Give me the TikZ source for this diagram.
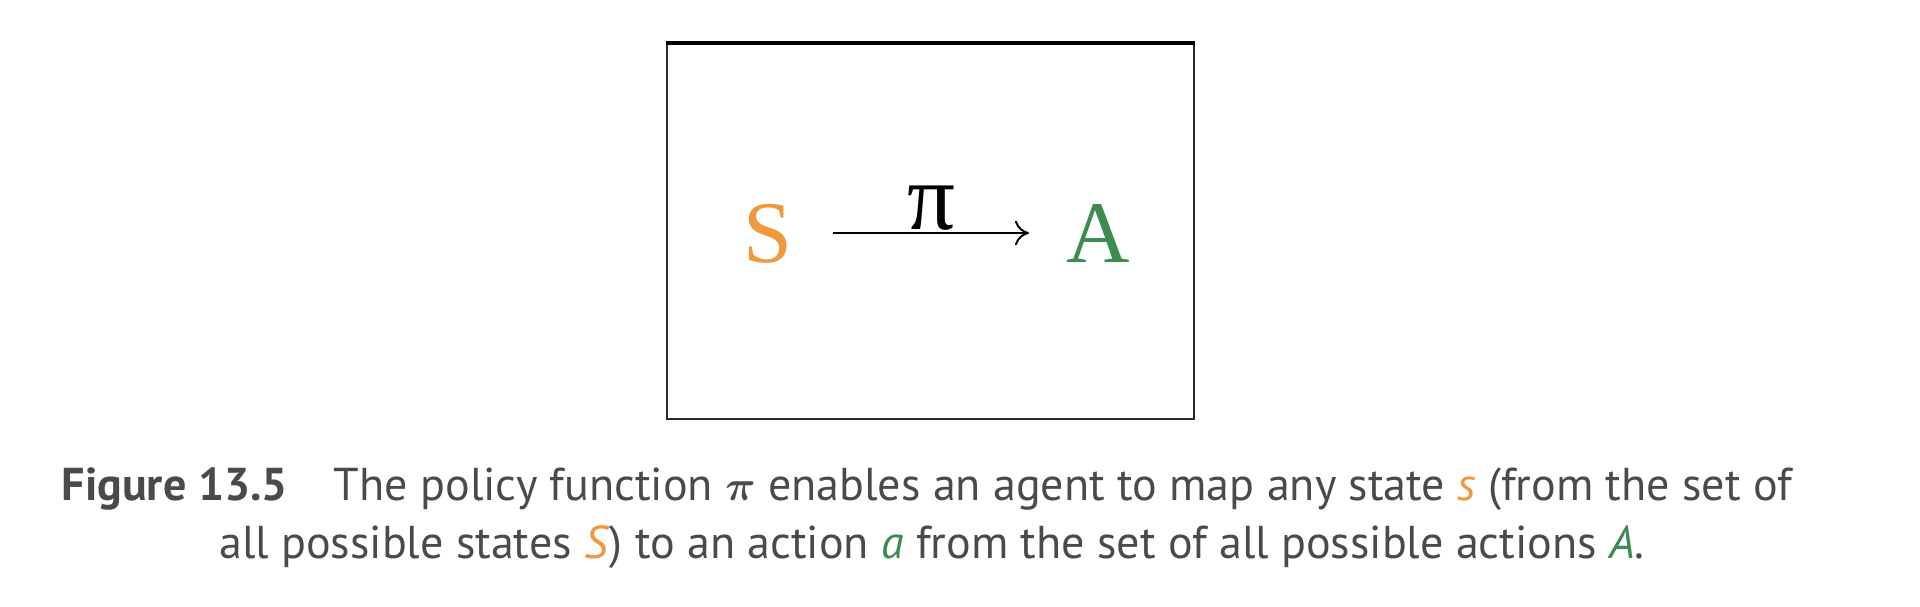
\documentclass[tikz,border=0pt]{standalone}
\usepackage{amsmath}
\usepackage{fontspec}
\setsansfont{PT Sans}
\newfontfamily\capfont{PT Sans}
\setmainfont{Liberation Serif}
\usetikzlibrary{arrows.meta}
\definecolor{sorange}{HTML}{F0983A}
\definecolor{agreen}{HTML}{3C8C52}
\definecolor{captxt}{HTML}{4A4A4A}
\definecolor{boxline}{HTML}{2A2A2A}
\tikzset{
  bigletter/.style={font=\fontsize{25}{25}\selectfont, inner sep=0pt, anchor=base},
  captionline/.style={font=\capfont\fontsize{13.1}{15}\selectfont, text=captxt, inner sep=0pt, anchor=base}
}
\begin{document}
\begin{tikzpicture}[x=0.01cm,y=-0.01cm]
\useasboundingbox (0,0) rectangle (1920,607);
% frame
\draw[boxline, line width=0.8pt, fill=white] (667,43) rectangle (1194,419);
\draw[black, line width=1.3pt] (666,43) -- (1195,43);
% letters
\node[bigletter, text=sorange] (S) at (768,263) {S};
\node[bigletter, text=agreen] (A) at (1098,263) {A};
\coordinate (arrS) at (833,233);
\coordinate (arrA) at (1029,233);
\draw[line width=0.55pt, -{To[length=4pt,width=7pt]}] (arrS) -- node[above, inner sep=0.5pt, font=\fontsize{27}{27}\selectfont] (pi) {π} (arrA);
% caption
\node[captionline, anchor=base west] (cap1) at (61,501) {\textbf{Figure 13.5}\quad The policy function $\boldsymbol{\pi}$ enables an agent to map any state \textcolor{sorange}{\textit{s}} (from the set of};
\node[captionline] (cap2) at (932,559) {all possible states \textcolor{sorange}{\textit{S}}) to an action \textcolor{agreen}{\textit{a}} from the set of all possible actions \textcolor{agreen}{\textit{A}}.};
\end{tikzpicture}
\end{document}
